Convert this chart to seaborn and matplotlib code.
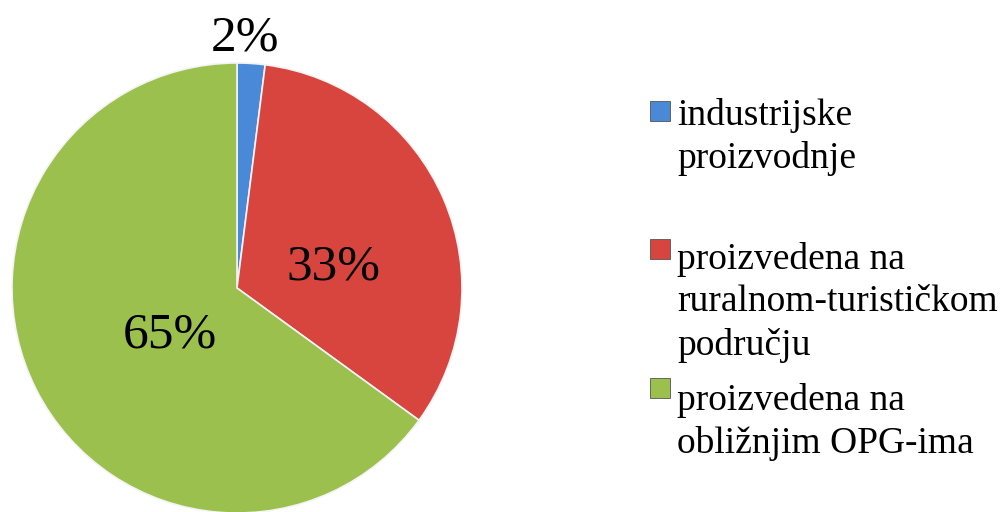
import matplotlib
matplotlib.use('Agg')
import matplotlib.pyplot as plt
import seaborn as sns
from matplotlib.patches import Rectangle

sns.set_theme(style='white')
plt.rcParams['font.family'] = ['Liberation Serif', 'DejaVu Serif']

# data
categories = ['industrijske\nproizvodnje',
              'proizvedena na\nruralnom-turističkom\npodručju',
              'proizvedena na\nobližnjim OPG-ima']
shares = [2, 33, 65]
pct_labels = ['2%', '33%', '65%']
colors = ['#4A89D8', '#D8453F', '#9BC04E']

fig = plt.figure(figsize=(10.03, 5.12), dpi=100)
# square axes holding the pie, centre ~ (237, 288) px, radius ~225 px
ax = fig.add_axes([12 / 1003, -1 / 512, 450 / 1003, 450 / 512])
wedges, _ = ax.pie(shares, colors=colors, startangle=90, counterclock=False,
                   radius=1, wedgeprops=dict(edgecolor='#f4f4f4', linewidth=1.2))
ax.set_xlim(-1, 1)
ax.set_ylim(-1, 1)
ax.set_aspect('equal')
ax.axis('off')

# percentage labels
label_pos = [(0.036, 1.11), (0.427, 0.09), (-0.30, -0.21)]
for (x, y), t in zip(label_pos, pct_labels):
    ax.text(x, y, t, ha='center', va='center', fontsize=37, color='black',
            clip_on=False)

# legend, drawn by hand to match the layout (pixel rows from the top)
box_tops = [101, 239, 378]
text_tops = [98, 242, 383]
for bt, tt, c, lab in zip(box_tops, text_tops, colors, categories):
    fig.add_artist(Rectangle((650 / 1003, 1 - (bt + 20) / 512), 20 / 1003, 20 / 512,
                             transform=fig.transFigure, facecolor=c,
                             edgecolor='#555555', linewidth=0.6))
    fig.text(677 / 1003, 1 - tt / 512, lab, ha='left', va='top',
             fontsize=27, linespacing=1.3, color='black')

fig.savefig('out.png', dpi=100)
